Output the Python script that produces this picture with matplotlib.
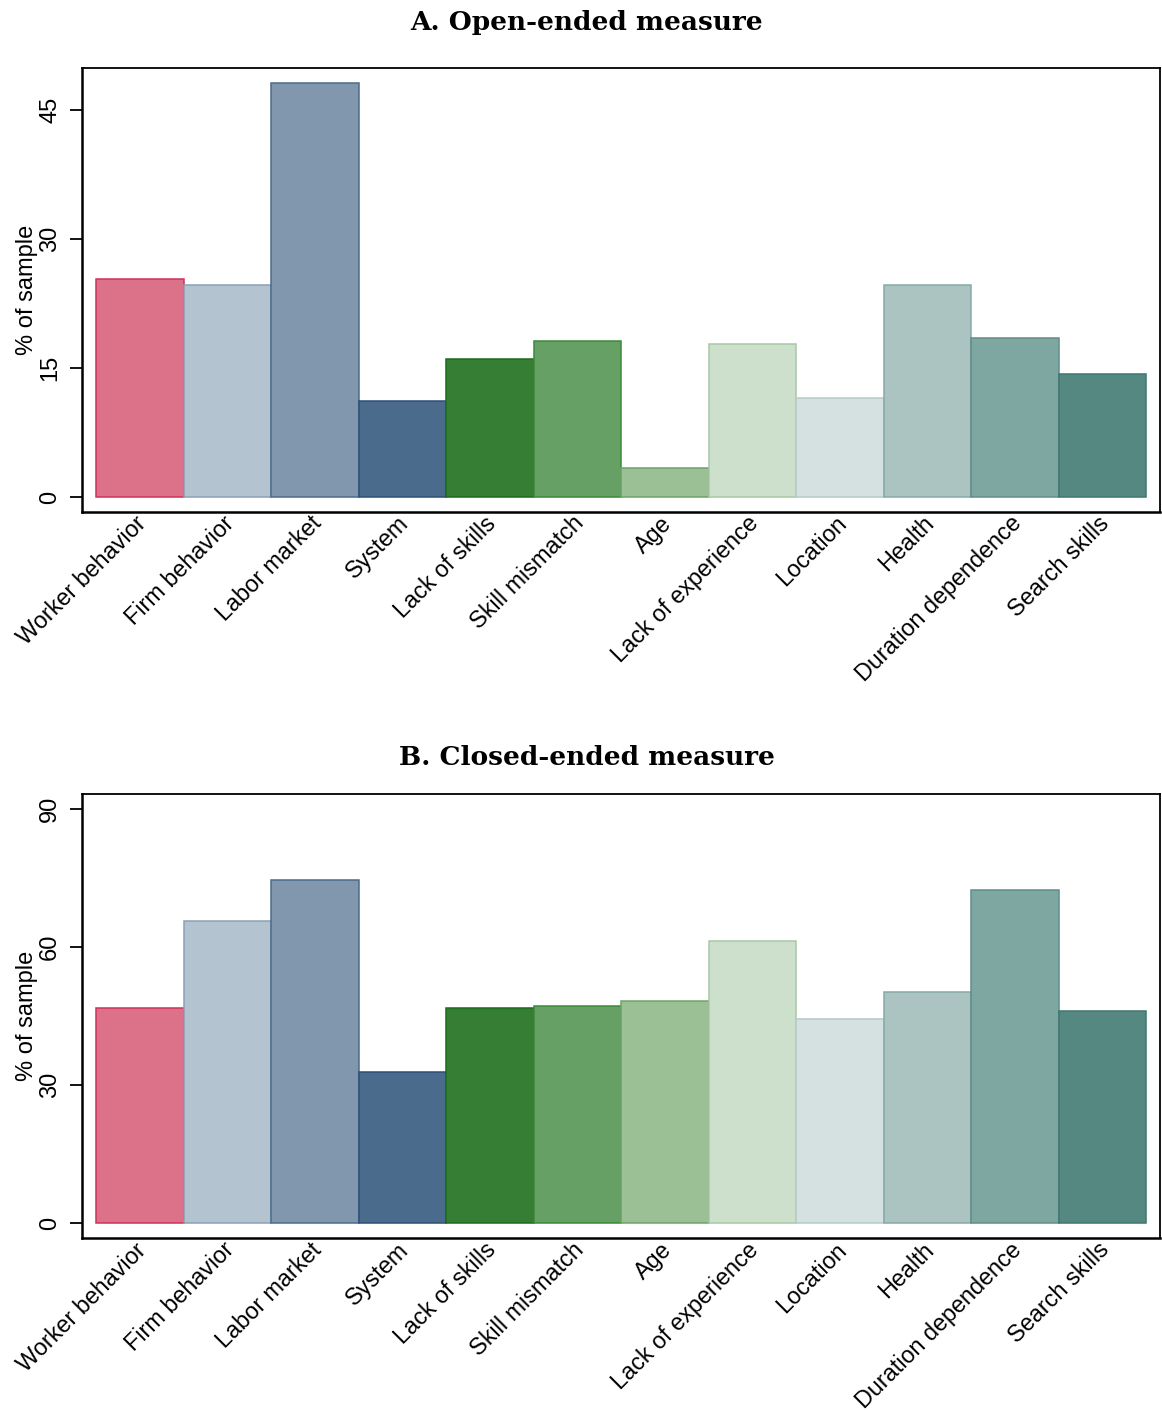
import matplotlib
matplotlib.use("Agg")
import matplotlib.pyplot as plt
from matplotlib.transforms import ScaledTranslation

categories = ["Worker behavior", "Firm behavior", "Labor market", "System",
              "Lack of skills", "Skill mismatch", "Age", "Lack of experience",
              "Location", "Health", "Duration dependence", "Search skills"]
open_ended = [25.4, 24.7, 48.1, 11.2, 16.1, 18.2, 3.4, 17.8, 11.5, 24.7, 18.5, 14.3]
closed_ended = [46.7, 65.7, 74.6, 32.8, 46.7, 47.2, 48.3, 61.3, 44.3, 50.2, 72.4, 46.1]
fill_colors = ["#DC7289", "#B4C3D0", "#8097AE", "#4A6B8C", "#357E34", "#66A064",
               "#9BC095", "#CDE0CC", "#D5E1E0", "#ABC4C1", "#7FA7A2", "#558880"]
edge_colors = ["#CF325A", "#8AA0B5", "#4C6C8C", "#2C5078", "#1C6B1C", "#3B8A39",
               "#6DA468", "#A8C9A5", "#B4CBC9", "#86A9A5", "#5F8E89", "#3E766F"]

panels = [
    ("A. Open-ended measure", open_ended, [0, 15, 30, 45], (-1.67, 49.9),
     [0.0706, 0.6371, 0.9277, 0.3147], 0.984),
    ("B. Closed-ended measure", closed_ended, [0, 30, 60, 90], (-3.3, 93.3),
     [0.0706, 0.1218, 0.9277, 0.3151], 0.463),
]

fig = plt.figure(figsize=(11.62, 14.10), dpi=100)
sans = ["Liberation Sans", "DejaVu Sans"]
shift = ScaledTranslation(-5 / 100, 4 / 100, fig.dpi_scale_trans)

for title, vals, yt, ylim, rect, ty in panels:
    ax = fig.add_axes(rect)
    x = list(range(len(categories)))
    ax.bar(x, vals, width=1.0, color=fill_colors, edgecolor=edge_colors,
           linewidth=1.1, zorder=2)
    ax.set_xlim(-0.66, 11.66)
    ax.set_ylim(*ylim)
    ax.set_yticks(yt)
    ax.set_yticklabels([str(v) for v in yt], rotation=90, va="center",
                       fontsize=17, family=sans)
    ax.set_xticks(x)
    ax.set_xticklabels(categories, rotation=45, ha="right", va="top",
                       rotation_mode="anchor", fontsize=16.8, family=sans)
    ax.tick_params(axis="x", length=0, pad=3)
    ax.tick_params(axis="y", length=9, width=1.3, pad=6)
    for lab in ax.get_xticklabels():
        lab.set_transform(lab.get_transform() + shift)
    ax.set_ylabel("% of sample", fontsize=17, family=sans, labelpad=1)
    for s in ["top", "right"]:
        ax.spines[s].set_linewidth(1.3)
    for s in ["left", "bottom"]:
        ax.spines[s].set_linewidth(1.8)
    fig.text(0.505, ty, title, ha="center", va="center", fontsize=19,
             fontweight="bold", family=["DejaVu Serif"])

fig.savefig("out.png", dpi=100, facecolor="white")
